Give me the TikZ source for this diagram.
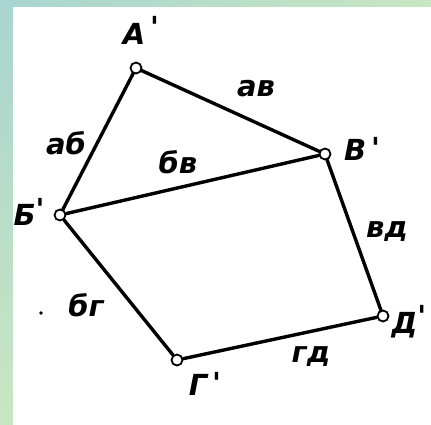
\documentclass[tikz,border=0pt]{standalone}
\usepackage{fontspec}
\usetikzlibrary{shadings}
\newfontfamily\gost{DejaVu Sans}[UprightFont={* Bold Oblique}, Ligatures=NoCommon]
\definecolor{frTeal}{RGB}{168,213,208}
\definecolor{frGreen}{RGB}{200,230,193}
\newcommand{\pr}[1]{\raisebox{#1}{\symbol{39}}}
\tikzset{
  vtx/.style={circle, draw=black, fill=white, line width=1.8pt, inner sep=0pt, minimum size=11pt},
  edge/.style={draw=black, line width=3.4pt, line cap=round},
  lbl/.style={inner sep=0pt, text=black, font=\gost\fontsize{29}{29}\selectfont},
}
\begin{document}
\begin{tikzpicture}[x=1pt,y=-1pt]
\useasboundingbox (0,0) rectangle (431,425);
\shade[upper left=frTeal, upper right=frGreen, lower left=frGreen, lower right=frGreen] (0,0) rectangle (431,425);
\fill[white] (13,7) rectangle (431,425);
% vertices
\node[vtx] (A) at (136,68) {};
\node[vtx] (V) at (325,154) {};
\node[vtx] (B) at (60,215) {};
\node[vtx] (G) at (177,360) {};
\node[vtx] (D) at (383,316) {};
% edges
\draw[edge] (A) -- (B);
\draw[edge] (A) -- (V);
\draw[edge] (B) -- (V);
\draw[edge] (B) -- (G);
\draw[edge] (V) -- (D);
\draw[edge] (G) -- (D);
% vertex labels
\node[lbl] (lA) at (141,30) {А\,\pr{7pt}};
\node[lbl] (lV) at (362,149) {В\,\pr{2pt}};
\node[lbl] (lB) at (29,212) {Б\pr{6pt}};
\node[lbl] (lG) at (205,384) {Г\,\pr{2pt}};
\node[lbl] (lD) at (409,322) {Д\pr{7pt}};
% edge labels
\node[lbl] (lab) at (66,143) {аб};
\node[lbl] (lav) at (256,89) {ав};
\node[lbl] (lbv) at (178,162) {бв};
\node[lbl] (lvd) at (387,232) {вд};
\node[lbl] (lbg) at (86,305) {бг};
\node[lbl] (lgd) at (311,357) {гд};
\fill[black] (41,313) circle (1.8);
\end{tikzpicture}
\end{document}
